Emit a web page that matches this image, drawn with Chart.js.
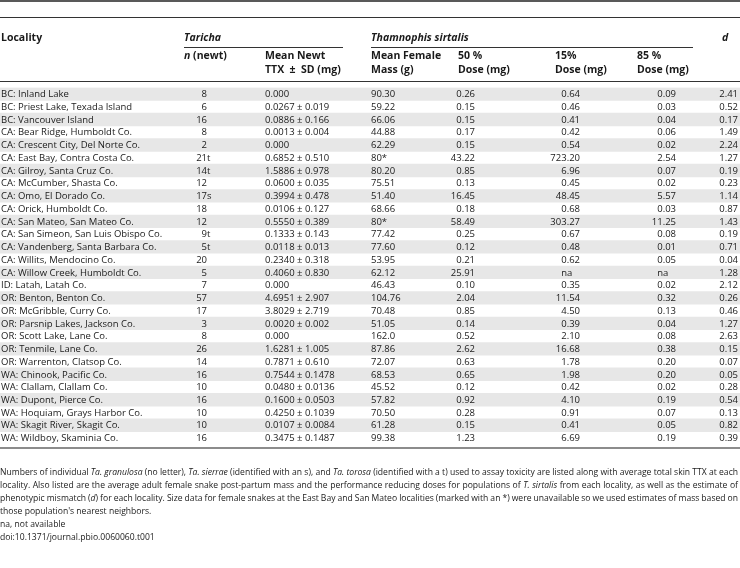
<!DOCTYPE html>
<html>
<head>
<meta charset="utf-8">
<script src="https://cdn.jsdelivr.net/npm/chart.js@4/dist/chart.umd.min.js"></script>
<style>
  html, body { margin: 0; padding: 0; background: #fff; }
  canvas { display: block; }
</style>
</head>
<body>
<canvas id="tbl" width="740" height="568"></canvas>
<script>
// table values
var localities = [
  "BC: Inland Lake", "BC: Priest Lake, Texada Island", "BC: Vancouver Island",
  "CA: Bear Ridge, Humboldt Co.", "CA: Crescent City, Del Norte Co.", "CA: East Bay, Contra Costa Co.",
  "CA: Gilroy, Santa Cruz Co.", "CA: McCumber, Shasta Co.", "CA: Omo, El Dorado Co.",
  "CA: Orick, Humboldt Co.", "CA: San Mateo, San Mateo Co.", "CA: San Simeon, San Luis Obispo Co.",
  "CA: Vandenberg, Santa Barbara Co.", "CA: Willits, Mendocino Co.", "CA: Willow Creek, Humboldt Co.",
  "ID: Latah, Latah Co.", "OR: Benton, Benton Co.", "OR: McGribble, Curry Co.",
  "OR: Parsnip Lakes, Jackson Co.", "OR: Scott Lake, Lane Co.", "OR: Tenmile, Lane Co.",
  "OR: Warrenton, Clatsop Co.", "WA: Chinook, Pacific Co.", "WA: Clallam, Clallam Co.",
  "WA: Dupont, Pierce Co.", "WA: Hoquiam, Grays Harbor Co.", "WA: Skagit River, Skagit Co.",
  "WA: Wildboy, Skaminia Co."
];
var nNewt = ["8", "6", "16", "8", "2", "21t", "14t", "12", "17s", "18", "12", "9t", "5t", "20",
  "5", "7", "57", "17", "3", "8", "26", "14", "16", "10", "16", "10", "10", "16"];
var ttxMean = ["0.000", "0.0267", "0.0886", "0.0013", "0.000", "0.6852", "1.5886", "0.0600", "0.3994",
  "0.0106", "0.5550", "0.1333", "0.0118", "0.2340", "0.4060", "0.000", "4.6951", "3.8029", "0.0020",
  "0.000", "1.6281", "0.7871", "0.7544", "0.0480", "0.1600", "0.4250", "0.0107", "0.3475"];
var ttxSD = ["", "0.019", "0.166", "0.004", "", "0.510", "0.978", "0.035", "0.478", "0.127", "0.389",
  "0.143", "0.013", "0.318", "0.830", "", "2.907", "2.719", "0.002", "", "1.005", "0.610", "0.1478",
  "0.0136", "0.0503", "0.1039", "0.0084", "0.1487"];
var femaleMass = ["90.30", "59.22", "66.06", "44.88", "62.29", "80*", "80.20", "75.51", "51.40", "68.66",
  "80*", "77.42", "77.60", "53.95", "62.12", "46.43", "104.76", "70.48", "51.05", "162.0", "87.86",
  "72.07", "68.53", "45.52", "57.82", "70.50", "61.28", "99.38"];
var dose50 = ["0.26", "0.15", "0.15", "0.17", "0.15", "43.22", "0.85", "0.13", "16.45", "0.18", "58.49",
  "0.25", "0.12", "0.21", "25.91", "0.10", "2.04", "0.85", "0.14", "0.52", "2.62", "0.63", "0.65",
  "0.12", "0.92", "0.28", "0.15", "1.23"];
var dose15 = ["0.64", "0.46", "0.41", "0.42", "0.54", "723.20", "6.96", "0.45", "48.45", "0.68", "303.27",
  "0.67", "0.48", "0.62", "na", "0.35", "11.54", "4.50", "0.39", "2.10", "16.68", "1.78", "1.98",
  "0.42", "4.10", "0.91", "0.41", "6.69"];
var dose85 = ["0.09", "0.03", "0.04", "0.06", "0.02", "2.54", "0.07", "0.02", "5.57", "0.03", "11.25",
  "0.08", "0.01", "0.05", "na", "0.02", "0.32", "0.13", "0.04", "0.08", "0.38", "0.20", "0.20",
  "0.02", "0.19", "0.07", "0.05", "0.19"];
var mismatchD = ["2.41", "0.52", "0.17", "1.49", "2.24", "1.27", "0.19", "0.23", "1.14", "0.87", "1.43",
  "0.19", "0.71", "0.04", "1.28", "2.12", "0.26", "0.46", "1.27", "2.63", "0.15", "0.07", "0.05",
  "0.28", "0.54", "0.13", "0.82", "0.39"];

var footnote = [
  "Numbers of individual _Ta. granulosa_ (no letter), _Ta. sierrae_ (identified with an s), and _Ta. torosa_ (identified with a t) used to assay toxicity are listed along with average total skin TTX at each",
  "locality. Also listed are the average adult female snake post-partum mass and the performance reducing doses for populations of _T. sirtalis_ from each locality, as well as the estimate of",
  "phenotypic mismatch (_d_) for each locality. Size data for female snakes at the East Bay and San Mateo localities (marked with an *) were unavailable so we used estimates of mass based on",
  "those population's nearest neighbors.",
  "na, not available",
  "doi:10.1371/journal.pbio.0060060.t001"
];

var FONT = "'Open Sans', 'Noto Sans', sans-serif";
var INK = "#1a1a1a";
var rowsTop = 87.6, rowsBottom = 444.4;

// every other row gets a grey band
var bandData = localities.map(function(l, i) { return i % 2 === 0 ? [0, 740] : null; });

function font(size, bold, italic) {
  return (italic ? "italic " : "") + (bold ? "bold " : "") + size + "px " + FONT;
}

function hline(ctx, x0, x1, y, w, col) {
  ctx.beginPath();
  ctx.lineWidth = w;
  ctx.strokeStyle = col;
  ctx.moveTo(x0, y);
  ctx.lineTo(x1, y);
  ctx.stroke();
}

function parseLine(s) {
  var words = [], cur = [], buf = "", it = false;
  for (var k = 0; k < s.length; k++) {
    var ch = s[k];
    if (ch === "_") {
      if (buf) cur.push({ t: buf, i: it });
      buf = ""; it = !it;
    } else if (ch === " ") {
      if (buf) cur.push({ t: buf, i: it });
      buf = "";
      if (cur.length) words.push(cur);
      cur = [];
    } else buf += ch;
  }
  if (buf) cur.push({ t: buf, i: it });
  if (cur.length) words.push(cur);
  return words;
}

var tablePlugin = {
  id: "tableText",
  afterDatasetsDraw: function(chart) {
    var ctx = chart.ctx;
    var xs = chart.scales.x, ys = chart.scales.y;
    var px = function(v) { return xs.getPixelForValue(v); };
    ctx.save();

    // rules
    hline(ctx, 0, 740, 1, 1.6, "#222");
    hline(ctx, 0, 740, 17.5, 1, "#333");
    hline(ctx, px(184), px(343), 47.5, 1, "#333");
    hline(ctx, px(371), px(693), 47.5, 1, "#333");
    hline(ctx, 0, 740, 81.5, 1, "#333");
    hline(ctx, 0, 740, 448, 1.6, "#666");

    // header
    ctx.fillStyle = INK;
    ctx.textBaseline = "middle";
    ctx.textAlign = "left";
    ctx.font = font(10.5, true, false);
    ctx.fillText("Locality", px(1), 38.5);
    ctx.font = font(10.5, true, true);
    ctx.fillText("Taricha", px(184), 38.5);
    ctx.fillText("Thamnophis sirtalis", px(371), 38.5);
    ctx.fillText("d", px(722), 38.5);
    ctx.fillText("n", px(184), 56.5);
    var nw = ctx.measureText("n").width;
    ctx.font = font(10.5, true, false);
    ctx.fillText(" (newt)", px(184) + nw, 56.5);
    var heads = [[265, "Mean Newt", "TTX  \u00b1  SD (mg)"], [371, "Mean Female", "Mass (g)"],
      [458, "50 %", "Dose (mg)"], [555, "15%", "Dose (mg)"], [637, "85 %", "Dose (mg)"]];
    heads.forEach(function(h) {
      ctx.fillText(h[1], px(h[0]), 56.5);
      ctx.fillText(h[2], px(h[0]), 70);
    });

    // body cells
    ctx.font = font(9.5, false, false);
    var zeroW = ctx.measureText("0.00").width;
    localities.forEach(function(loc, i) {
      var y = ys.getPixelForValue(i) + 0.5;
      ctx.textAlign = "left";
      ctx.fillText(loc, px(1), y);
      // n: digits right-aligned, letter hangs
      var m = nNewt[i].match(/^(\d+)(\D*)$/);
      ctx.textAlign = "right";
      ctx.fillText(m[1], px(207), y);
      if (m[2]) { ctx.textAlign = "left"; ctx.fillText(m[2], px(207), y); }
      ctx.textAlign = "left";
      ctx.fillText(ttxSD[i] ? ttxMean[i] + " \u00b1 " + ttxSD[i] : ttxMean[i], px(265), y);
      ctx.fillText(femaleMass[i], px(371), y);
      [[dose50, 475], [dose15, 580], [dose85, 676], [mismatchD, 738]].forEach(function(c) {
        var v = c[0][i];
        if (v === "na") { ctx.textAlign = "left"; ctx.fillText(v, px(c[1]) - zeroW, y); }
        else { ctx.textAlign = "right"; ctx.fillText(v, px(c[1]), y); }
      });
    });

    // footnote: squeeze horizontally so line 1 fits, first three lines justified
    ctx.textAlign = "left";
    var fy = 472, lh = 13, fs = 9.5, k = 1;
    var parsed = footnote.map(parseLine);
    function wordW(w) {
      return w.reduce(function(s, r) { ctx.font = font(fs, false, r.i); return s + ctx.measureText(r.t).width; }, 0);
    }
    ctx.font = font(fs, false, false);
    var sp0 = ctx.measureText(" ").width;
    var nat = parsed[0].reduce(function(s, w) { return s + wordW(w); }, 0) + sp0 * (parsed[0].length - 1);
    if (nat > 738) k = 738 / nat;
    parsed.forEach(function(words, li) {
      var widths = words.map(wordW);
      var sp = sp0;
      if (li < 3) {
        var tot = widths.reduce(function(a, b) { return a + b; }, 0);
        sp = (738 / k - tot) / (words.length - 1);
      }
      ctx.save();
      ctx.translate(0, fy + li * lh);
      ctx.scale(k, 1);
      var x = 0;
      words.forEach(function(w) {
        w.forEach(function(r) {
          ctx.font = font(fs, false, r.i);
          ctx.fillText(r.t, x, 0);
          x += ctx.measureText(r.t).width;
        });
        x += sp;
      });
      ctx.restore();
    });
    ctx.restore();
  }
};

new Chart(document.getElementById("tbl"), {
  type: "bar",
  data: {
    labels: localities,
    datasets: [{
      data: bandData,
      backgroundColor: "#e7e7e7",
      borderWidth: 0,
      barPercentage: 1,
      categoryPercentage: 1
    }]
  },
  options: {
    indexAxis: "y",
    responsive: false,
    animation: false,
    devicePixelRatio: 1,
    layout: { padding: { top: rowsTop, bottom: 568 - rowsBottom, left: 0, right: 0 } },
    scales: {
      x: { type: "linear", min: 0, max: 740, display: false },
      y: { type: "category", display: false, offset: true }
    },
    plugins: { legend: { display: false }, tooltip: { enabled: false } }
  },
  plugins: [tablePlugin]
});
</script>
</body>
</html>
